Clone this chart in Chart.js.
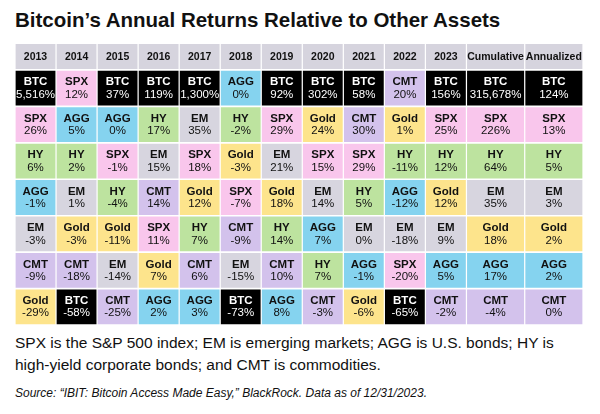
<!DOCTYPE html>
<html>
<head>
<meta charset="utf-8">
<script src="https://cdn.jsdelivr.net/npm/chart.js@4"></script>
<style>
  body { margin: 0; width: 600px; height: 414px; background: #fff; font-family: "Liberation Sans", Arial, sans-serif; position: relative; overflow: hidden; }
  h1 { position: absolute; left: 15px; top: 8px; margin: 0; font-size: 20.5px; font-weight: bold; color: #111; }
  #wrap { position: absolute; left: 0; top: 40px; width: 600px; height: 288px; }
  .note { position: absolute; left: 15px; top: 332px; width: 575px; font-size: 15.5px; line-height: 22px; color: #111; }
  .src { position: absolute; left: 15px; top: 386px; font-size: 12px; font-style: italic; color: #111; }
</style>
</head>
<body>
<h1>Bitcoin’s Annual Returns Relative to Other Assets</h1>
<div id="wrap"><canvas id="chart"></canvas></div>
<div class="note">SPX is the S&amp;P 500 index; EM is emerging markets; AGG is U.S. bonds; HY is high-yield corporate bonds; and CMT is commodities.</div>
<div class="src">Source: “IBIT: Bitcoin Access Made Easy,” BlackRock. Data as of 12/31/2023.</div>
<script>
// Columnas
const columnas = ["2013", "2014", "2015", "2016", "2017", "2018", "2019", "2020", "2021", "2022", "2023", "Cumulative", "Annualized"];
const anchos = [1, 1, 1, 1, 1, 1, 1, 1, 1, 1, 1, 1.42, 1.42];

// Activos por posición (una lista por columna, de mejor a peor)
const activos = [
  ["BTC", "SPX", "HY", "AGG", "EM", "CMT", "Gold"],
  ["SPX", "AGG", "HY", "EM", "Gold", "CMT", "BTC"],
  ["BTC", "AGG", "SPX", "HY", "Gold", "EM", "CMT"],
  ["BTC", "HY", "EM", "CMT", "SPX", "Gold", "AGG"],
  ["BTC", "EM", "SPX", "Gold", "HY", "CMT", "AGG"],
  ["AGG", "HY", "Gold", "SPX", "CMT", "EM", "BTC"],
  ["BTC", "SPX", "EM", "Gold", "HY", "CMT", "AGG"],
  ["BTC", "Gold", "SPX", "EM", "AGG", "HY", "CMT"],
  ["BTC", "CMT", "SPX", "HY", "EM", "AGG", "Gold"],
  ["CMT", "Gold", "HY", "AGG", "EM", "SPX", "BTC"],
  ["BTC", "SPX", "HY", "Gold", "EM", "AGG", "CMT"],
  ["BTC", "SPX", "HY", "EM", "Gold", "AGG", "CMT"],
  ["BTC", "SPX", "HY", "EM", "Gold", "AGG", "CMT"]
];

// Rendimientos (texto) por columna
const retornos = [
  ["5,516%", "26%", "6%", "-1%", "-3%", "-9%", "-29%"],
  ["12%", "5%", "2%", "1%", "-3%", "-18%", "-58%"],
  ["37%", "0%", "-1%", "-4%", "-11%", "-14%", "-25%"],
  ["119%", "17%", "15%", "14%", "11%", "7%", "2%"],
  ["1,300%", "35%", "18%", "12%", "7%", "6%", "3%"],
  ["0%", "-2%", "-3%", "-7%", "-9%", "-15%", "-73%"],
  ["92%", "29%", "21%", "18%", "14%", "10%", "8%"],
  ["302%", "24%", "15%", "14%", "7%", "7%", "-3%"],
  ["58%", "30%", "29%", "5%", "0%", "-1%", "-6%"],
  ["20%", "1%", "-11%", "-12%", "-18%", "-20%", "-65%"],
  ["156%", "25%", "12%", "12%", "9%", "5%", "-2%"],
  ["315,678%", "226%", "64%", "35%", "18%", "17%", "-4%"],
  ["124%", "13%", "5%", "3%", "2%", "2%", "0%"]
];

const filas = ["1", "2", "3", "4", "5", "6", "7"];

// Colores por activo
const colores = {
  BTC: "#000000", SPX: "#f9c6ec", AGG: "#85d3ef", HY: "#bde39f",
  EM: "#d7d5df", Gold: "#fde48c", CMT: "#d3c2ec"
};
const colorEncabezado = "#d6d4de";

// Bordes de columnas
const bordes = [0];
anchos.forEach((a) => bordes.push(bordes[bordes.length - 1] + a));
const total = bordes[bordes.length - 1];
const gap = 0.015;

const datasets = columnas.map((col, i) => ({
  label: col,
  data: filas.map(() => [bordes[i] + gap, bordes[i + 1] - gap]),
  backgroundColor: activos[i].map((a) => colores[a]),
  borderWidth: 0,
  grouped: false,
  barPercentage: 1,
  categoryPercentage: 0.955
}));

// Plugin: encabezado y textos
const textosPlugin = {
  id: "textos",
  afterDatasetsDraw(chart) {
    const { ctx, chartArea, scales } = chart;
    const x = scales.x;
    ctx.save();
    ctx.textAlign = "center";
    ctx.textBaseline = "middle";
    // encabezado
    columnas.forEach((col, i) => {
      const x0 = x.getPixelForValue(bordes[i] + gap);
      const x1 = x.getPixelForValue(bordes[i + 1] - gap);
      ctx.fillStyle = colorEncabezado;
      ctx.fillRect(x0, chartArea.top - 26, x1 - x0, 25);
      ctx.fillStyle = "#111";
      ctx.font = "bold 10.5px 'Liberation Sans', Arial";
      ctx.fillText(col, (x0 + x1) / 2, chartArea.top - 13);
    });
    // celdas
    chart.data.datasets.forEach((ds, i) => {
      chart.getDatasetMeta(i).data.forEach((bar, j) => {
        const activo = activos[i][j];
        const cx = (bar.x + bar.base) / 2;
        ctx.fillStyle = activo === "BTC" ? "#fff" : "#111";
        ctx.font = "bold 11.5px 'Liberation Sans', Arial";
        ctx.fillText(activo, cx, bar.y - 6);
        ctx.font = "11.5px 'Liberation Sans', Arial";
        ctx.fillText(retornos[i][j], cx, bar.y + 6.5);
      });
    });
    ctx.restore();
  }
};

new Chart(document.getElementById("chart"), {
  type: "bar",
  data: { labels: filas, datasets: datasets },
  options: {
    indexAxis: "y",
    responsive: true,
    maintainAspectRatio: false,
    animation: false,
    layout: { padding: { top: 30, left: 15, right: 17, bottom: 3 } },
    plugins: { legend: { display: false }, tooltip: { enabled: false } },
    scales: {
      x: { type: "linear", min: 0, max: total, display: false },
      y: { display: false }
    }
  },
  plugins: [textosPlugin]
});
</script>
</body>
</html>
